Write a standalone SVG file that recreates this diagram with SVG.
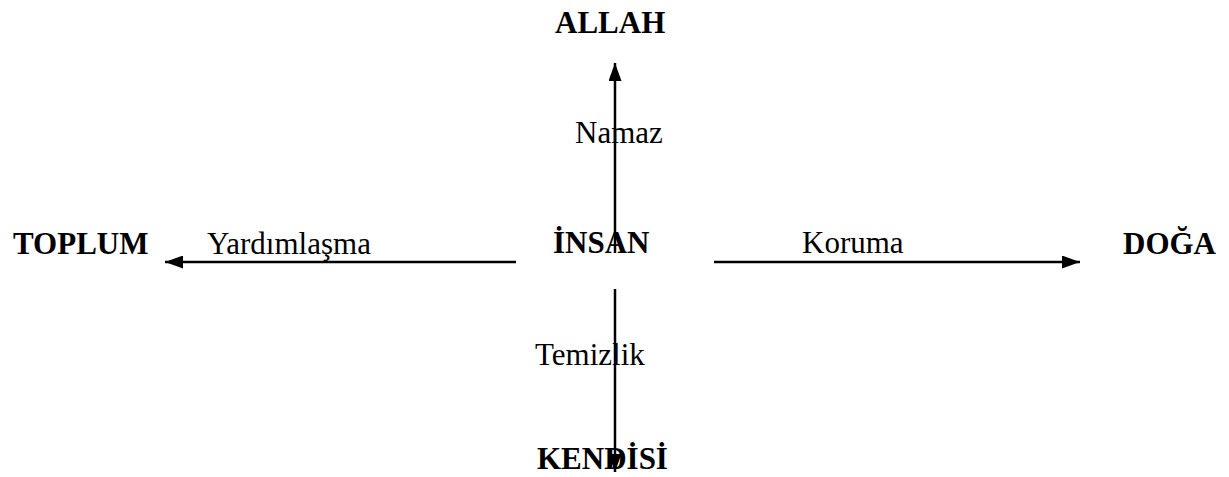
<svg xmlns="http://www.w3.org/2000/svg" width="1229" height="477" viewBox="0 0 1229 477">
<style>
.b{font-family:"Liberation Serif","Times New Roman",serif;font-weight:bold;font-size:31px;fill:#000}
.r{font-family:"Liberation Serif","Times New Roman",serif;font-size:31px;fill:#000}
.c{stroke:#000;stroke-width:2.5;fill:none}
</style>
<defs>
<marker id="ah" viewBox="0 0 18 13" refX="18" refY="6.5" markerWidth="18" markerHeight="13" markerUnits="userSpaceOnUse" orient="auto">
<path d="M0,0 L18,6.5 L0,13 Z" fill="#000"/>
</marker>
</defs>
<rect width="1229" height="477" fill="#fff"/>
<g id="connectors">
<line class="c" x1="615" y1="253" x2="615" y2="63" marker-end="url(#ah)"/>
<line class="c" x1="516" y1="262" x2="165" y2="262" marker-end="url(#ah)"/>
<line class="c" x1="714" y1="262" x2="1080" y2="262" marker-end="url(#ah)"/>
<line class="c" x1="615" y1="289" x2="615" y2="472" marker-end="url(#ah)"/>
</g>
<g id="label-namaz"><text class="r" x="575" y="143">Namaz</text></g>
<g id="label-yardimlasma"><text class="r" x="207" y="254">Yardımlaşma</text></g>
<g id="label-koruma"><text class="r" x="802" y="253">Koruma</text></g>
<g id="label-temizlik"><text class="r" x="535" y="365">Temizlik</text></g>
<g id="node-allah"><text class="b" x="555" y="33">ALLAH</text></g>
<g id="node-toplum"><text class="b" x="13" y="254">TOPLUM</text></g>
<g id="node-insan"><text class="b" x="553" y="253">İNSAN</text></g>
<g id="node-doga"><text class="b" x="1123" y="254">DOĞA</text></g>
<g id="node-kendisi"><text class="b" x="537" y="469">KENDİSİ</text></g>
</svg>
